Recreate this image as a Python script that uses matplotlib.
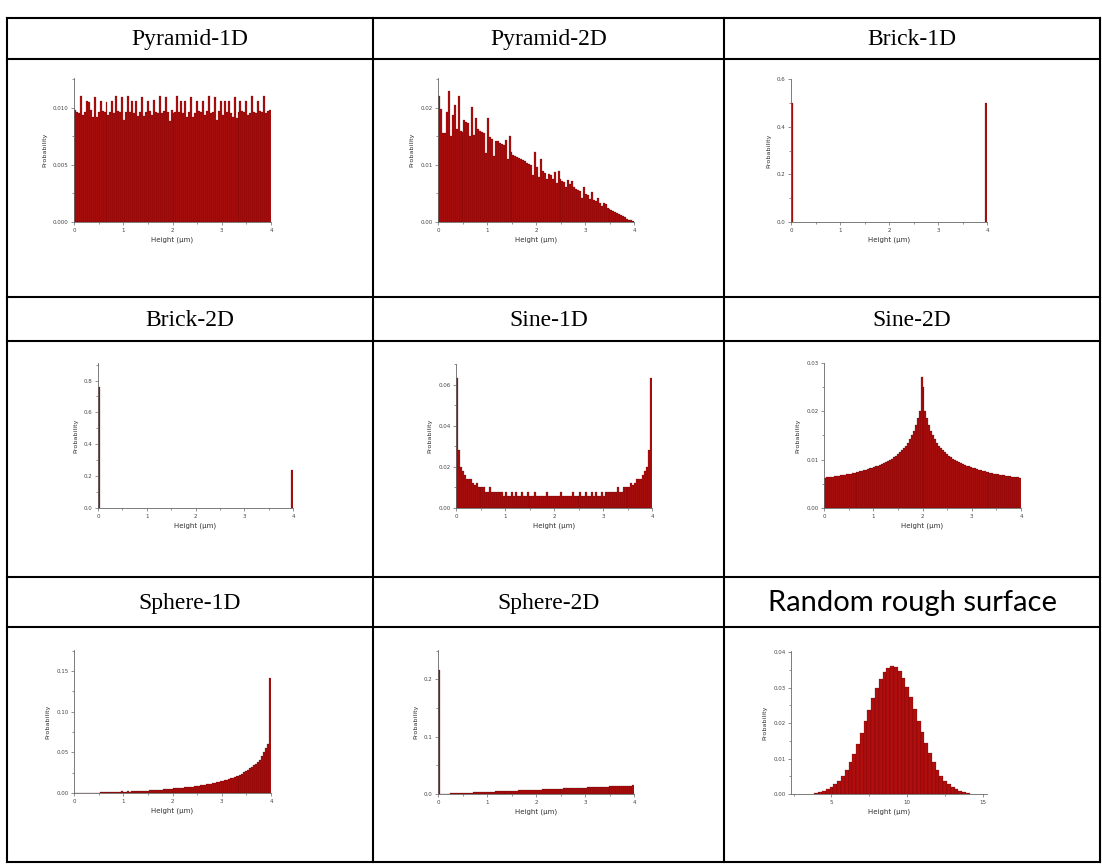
import matplotlib
matplotlib.use('Agg')
import matplotlib.pyplot as plt
from matplotlib.lines import Line2D
from matplotlib.ticker import AutoMinorLocator, FormatStrFormatter

W, H = 1102, 864

# cell titles
titles = ['Pyramid-1D', 'Pyramid-2D', 'Brick-1D',
          'Brick-2D', 'Sine-1D', 'Sine-2D',
          'Sphere-1D', 'Sphere-2D', 'Random rough surface']

# probabilities (x1e-3), 100 bins of 0.04 um over 0..4 um
pyramid_1d = [9.8, 9.6, 9.5, 11.0, 9.4, 9.6, 10.6, 10.5, 9.8, 9.2, 10.9, 9.2, 9.6, 10.6, 9.7, 9.6, 10.5, 9.4, 9.6, 10.6, 9.5, 11.0, 9.7, 9.6, 10.9,
              8.9, 9.6, 11.0, 9.6, 10.6, 9.5, 10.6, 9.3, 9.6, 10.9, 9.3, 9.6, 10.6, 9.7, 9.4, 10.7, 9.6, 9.5, 11.0, 9.5, 9.7, 10.9, 9.6, 8.8, 9.8,
              9.5, 9.6, 11.0, 9.6, 10.6, 9.5, 10.6, 9.2, 9.6, 10.9, 9.2, 9.5, 10.6, 9.7, 9.6, 10.6, 9.4, 9.7, 11.0, 9.5, 9.6, 10.9, 8.9, 9.7, 10.6,
              9.4, 10.6, 9.6, 10.6, 9.5, 9.2, 10.9, 9.1, 9.6, 10.6, 9.7, 9.6, 10.6, 9.4, 9.5, 11.0, 9.6, 9.5, 10.6, 9.7, 9.6, 11.0, 9.5, 9.7, 9.8]

pyramid_2d = [22.0, 19.7, 15.5, 15.5, 19.3, 23.0, 15.0, 18.8, 20.5, 16.3,
              22.0, 16.0, 15.8, 17.8, 17.5, 17.3, 15.1, 20.2, 15.3, 18.2,
              16.2, 16.0, 15.8, 15.6, 12.1, 18.2, 14.8, 14.6, 11.5, 14.2,
              14.1, 13.9, 13.7, 13.5, 14.4, 11.0, 15.1, 12.2, 11.7, 11.6,
              11.4, 11.2, 11.0, 10.8, 10.6, 10.3, 10.1, 9.9, 8.2, 12.2,
              9.7, 7.8, 11.1, 9.0, 8.6, 7.6, 8.4, 8.2, 7.5, 8.7,
              6.9, 9.0, 7.5, 7.2, 7.0, 6.1, 7.4, 6.6, 7.2, 6.1,
              5.8, 5.6, 5.4, 4.2, 6.2, 4.9, 4.7, 4.0, 5.2, 3.9,
              3.6, 4.2, 3.3, 2.8, 3.3, 3.1, 2.5, 2.3, 2.1, 1.9,
              1.7, 1.6, 1.4, 1.2, 1.0, 0.8, 0.6, 0.4, 0.3, 0.1]

sine_1d = [63, 28, 20, 18, 16, 14, 14, 14, 12, 11,
           12, 10, 10, 10, 10, 8, 8, 10, 8, 8,
           8, 8, 8, 8, 6, 8, 6, 6, 8, 6,
           8, 6, 6, 8, 6, 6, 8, 6, 6, 6,
           8, 6, 6, 6, 6, 6, 8, 6, 6, 6,
           6, 6, 6, 8, 6, 6, 6, 6, 6, 8,
           6, 6, 6, 8, 6, 6, 8, 6, 6, 8,
           6, 8, 6, 6, 8, 6, 8, 8, 8, 8,
           8, 8, 10, 8, 8, 10, 10, 10, 10, 12,
           11, 12, 14, 14, 14, 16, 18, 20, 28, 63]

sine_2d = [6.3, 6.4, 6.4, 6.5, 6.5, 6.6, 6.6, 6.7, 6.8, 6.8,
           6.9, 7.0, 7.0, 7.1, 7.2, 7.3, 7.4, 7.5, 7.6, 7.7,
           7.8, 7.9, 8.0, 8.2, 8.3, 8.4, 8.6, 8.7, 8.9, 9.1,
           9.3, 9.5, 9.7, 9.9, 10.2, 10.5, 10.8, 11.1, 11.5, 11.9,
           12.4, 12.9, 13.5, 14.2, 15.0, 16.0, 17.2, 18.7, 20.0, 27.0,
           25.0, 20.0, 18.7, 17.2, 16.0, 15.0, 14.2, 13.5, 12.9, 12.4,
           11.9, 11.5, 11.1, 10.8, 10.5, 10.2, 9.9, 9.7, 9.5, 9.3,
           9.1, 8.9, 8.7, 8.6, 8.4, 8.3, 8.2, 8.0, 7.9, 7.8,
           7.7, 7.6, 7.5, 7.4, 7.3, 7.2, 7.1, 7.0, 7.0, 6.9,
           6.8, 6.8, 6.7, 6.6, 6.6, 6.5, 6.5, 6.4, 6.4, 6.3]

sphere_1d = [0, 0, 0, 0, 0, 0.4, 0.4, 0.4, 0.4, 0.4,
             0.4, 0.4, 0.4, 0.8, 0.8, 0.8, 0.9, 1.0, 1.0, 1.1,
             1.1, 1.2, 1.3, 1.4, 2.0, 1.5, 1.6, 2.2, 1.8, 2.0,
             2.4, 2.2, 2.6, 2.4, 2.6, 2.8, 2.8, 3.0, 3.3, 3.2,
             3.5, 3.6, 3.8, 4.0, 4.2, 4.4, 4.6, 4.8, 5.0, 5.2,
             5.8, 5.6, 5.9, 6.2, 6.5, 6.3, 7.0, 7.2, 7.5, 7.8,
             8.0, 8.5, 8.6, 9.0, 9.5, 10.0, 10.2, 10.8, 11.0, 11.6,
             12.0, 12.5, 13.0, 13.6, 14.2, 15.0, 15.6, 16.5, 17.2, 18.0,
             19.0, 20.0, 20.5, 21.5, 22.5, 24.0, 25.5, 27.0, 28.5, 30.5,
             32.0, 34.0, 36.0, 38.5, 41.0, 45.0, 50.0, 55.0, 60.0, 142.0]

sphere_2d = [216, 0.2, 0.3, 0.5, 0.6, 0.8, 0.9, 1.1, 1.2, 1.4,
             1.5, 1.7, 1.8, 2.0, 2.1, 2.3, 2.4, 2.6, 2.7, 2.9,
             3.0, 3.2, 3.3, 3.5, 3.6, 3.8, 3.9, 4.1, 4.2, 4.4,
             4.5, 4.7, 4.8, 5.0, 5.1, 5.3, 5.4, 5.6, 5.7, 5.9,
             6.0, 6.2, 6.3, 6.5, 6.6, 6.8, 6.9, 7.1, 7.2, 7.4,
             7.5, 7.7, 7.8, 8.0, 8.1, 8.3, 8.4, 8.6, 8.7, 8.9,
             9.0, 9.2, 9.3, 9.5, 9.6, 9.8, 9.9, 10.1, 10.2, 10.4,
             10.5, 10.7, 10.8, 11.0, 11.1, 11.3, 11.4, 11.6, 11.7, 11.9,
             12.0, 12.2, 12.3, 12.5, 12.6, 12.8, 12.9, 13.1, 13.2, 13.4,
             13.5, 13.7, 13.8, 14.0, 14.1, 14.3, 14.4, 14.6, 14.7, 14.9]

# brick: only the two end bins are filled
brick_x = [0.0, 3.96]
brick_1d = [0.50, 0.50]
brick_2d = [0.76, 0.24]

# random rough surface, bins of 0.25 um, first bin starts at 3.875 um
random_rough = [0.4, 0.6, 0.9, 1.3, 1.9, 2.7, 3.8, 5.2, 6.9, 9.0,
                11.4, 14.2, 17.3, 20.5, 23.8, 27.0, 30.0, 32.5, 34.4, 35.6,
                36.0,
                35.8, 34.6, 32.8, 30.2, 27.2, 24.0, 20.7, 17.5, 14.3, 11.5,
                9.0, 6.9, 5.2, 3.8, 2.7, 1.9, 1.3, 0.9, 0.6, 0.4]

bins_04 = [0.04 * i for i in range(100)]
bins_rr = [3.875 + 0.25 * i for i in range(len(random_rough))]

fig = plt.figure(figsize=(W / 100, H / 100), dpi=100)

# table grid (pixel positions)
col_x = [7, 373, 724, 1100]
row_y = [18, 59, 297, 341, 577, 627, 862]
for x in col_x:
    fig.add_artist(Line2D([x / W, x / W], [1 - row_y[0] / H, 1 - row_y[-1] / H],
                          color='black', lw=1.5, transform=fig.transFigure))
for y in row_y:
    fig.add_artist(Line2D([col_x[0] / W, col_x[-1] / W], [1 - y / H, 1 - y / H],
                          color='black', lw=1.5, transform=fig.transFigure))

for r in range(3):
    yc = (row_y[2 * r] + row_y[2 * r + 1]) / 2
    for c in range(3):
        xc = (col_x[c] + col_x[c + 1]) / 2
        t = titles[3 * r + c]
        if t == 'Random rough surface':
            fig.text(xc / W, 1 - (yc + 1) / H, t, ha='center', va='center',
                     fontsize=21, family='Lato')
        else:
            fig.text(xc / W, 1 - (yc + 1) / H, t, ha='center', va='center',
                     fontsize=17, family='Liberation Serif')

RED = '#b00e0e'
EDGE = '#4a0000'
GREY = '#666666'


def make_ax(x0, x1, ytop, ybot):
    ax = fig.add_axes([x0 / W, 1 - ybot / H, (x1 - x0) / W, (ybot - ytop) / H])
    for s in ['top', 'right']:
        ax.spines[s].set_visible(False)
    for s in ['left', 'bottom']:
        ax.spines[s].set_color(GREY)
        ax.spines[s].set_linewidth(0.6)
    ax.tick_params(which='both', direction='out', color=GREY, labelcolor='#444444',
                   labelsize=4, width=0.5, pad=1.5)
    ax.tick_params(which='major', length=2.5)
    ax.tick_params(which='minor', length=1.5)
    ax.xaxis.set_minor_locator(AutoMinorLocator(2))
    ax.yaxis.set_minor_locator(AutoMinorLocator(2))
    ax.set_xlabel('Height (μm)', fontsize=5, color='#333333', labelpad=3)
    ax.set_ylabel('Probability', fontsize=4.6, color='#333333', labelpad=4)
    ax.patch.set_alpha(0)
    return ax


def bars(ax, x, vals, width, scale=1e-3):
    ax.bar(x, [v * scale for v in vals], width=width, align='edge',
           color=RED, edgecolor=EDGE, linewidth=0.15)


std_ticks = [0, 1, 2, 3, 4]

# row 1
ax = make_ax(74, 271, 78, 222)
bars(ax, bins_04, pyramid_1d, 0.04)
ax.set_xlim(0, 4); ax.set_ylim(0, 0.0126)
ax.set_xticks(std_ticks); ax.set_yticks([0, 0.005, 0.010])
ax.yaxis.set_major_formatter(FormatStrFormatter('%.3f'))

ax = make_ax(438, 634, 78, 222)
bars(ax, bins_04, pyramid_2d, 0.04)
ax.set_xlim(0, 4); ax.set_ylim(0, 0.0252)
ax.set_xticks(std_ticks); ax.set_yticks([0, 0.01, 0.02])
ax.yaxis.set_major_formatter(FormatStrFormatter('%.2f'))

ax = make_ax(791, 987, 79, 222)
bars(ax, brick_x, brick_1d, 0.04, scale=1)
ax.set_xlim(0, 4); ax.set_ylim(0, 0.6)
ax.set_xticks(std_ticks); ax.set_yticks([0, 0.2, 0.4, 0.6])
ax.yaxis.set_major_formatter(FormatStrFormatter('%.1f'))

# row 2
ax = make_ax(98, 293, 363, 508)
bars(ax, brick_x, brick_2d, 0.04, scale=1)
ax.set_xlim(0, 4); ax.set_ylim(0, 0.91)
ax.set_xticks(std_ticks); ax.set_yticks([0, 0.2, 0.4, 0.6, 0.8])
ax.yaxis.set_major_formatter(FormatStrFormatter('%.1f'))

ax = make_ax(456, 652, 364, 508)
bars(ax, bins_04, sine_1d, 0.04)
ax.set_xlim(0, 4); ax.set_ylim(0, 0.070)
ax.set_xticks(std_ticks); ax.set_yticks([0, 0.02, 0.04, 0.06])
ax.yaxis.set_major_formatter(FormatStrFormatter('%.2f'))

ax = make_ax(824, 1021, 363, 508)
bars(ax, bins_04, sine_2d, 0.04)
ax.set_xlim(0, 4); ax.set_ylim(0, 0.03)
ax.set_xticks(std_ticks); ax.set_yticks([0, 0.01, 0.02, 0.03])
ax.yaxis.set_major_formatter(FormatStrFormatter('%.2f'))

# row 3
ax = make_ax(74, 271, 650, 793)
bars(ax, bins_04, sphere_1d, 0.04)
ax.set_xlim(0, 4); ax.set_ylim(0, 0.176)
ax.set_xticks(std_ticks); ax.set_yticks([0, 0.05, 0.10, 0.15])
ax.yaxis.set_major_formatter(FormatStrFormatter('%.2f'))

ax = make_ax(438, 634, 650, 794)
bars(ax, bins_04, sphere_2d, 0.04)
ax.set_xlim(0, 4); ax.set_ylim(0, 0.251)
ax.set_xticks(std_ticks); ax.set_yticks([0, 0.1, 0.2])
ax.yaxis.set_major_formatter(FormatStrFormatter('%.1f'))

ax = make_ax(791, 987, 651, 794)
bars(ax, bins_rr, random_rough, 0.25)
ax.set_xlim(2.33, 15.26); ax.set_ylim(0, 0.0403)
ax.set_xticks([5, 10, 15]); ax.set_yticks([0, 0.01, 0.02, 0.03, 0.04])
ax.yaxis.set_major_formatter(FormatStrFormatter('%.2f'))

fig.savefig('out.png', dpi=100)
